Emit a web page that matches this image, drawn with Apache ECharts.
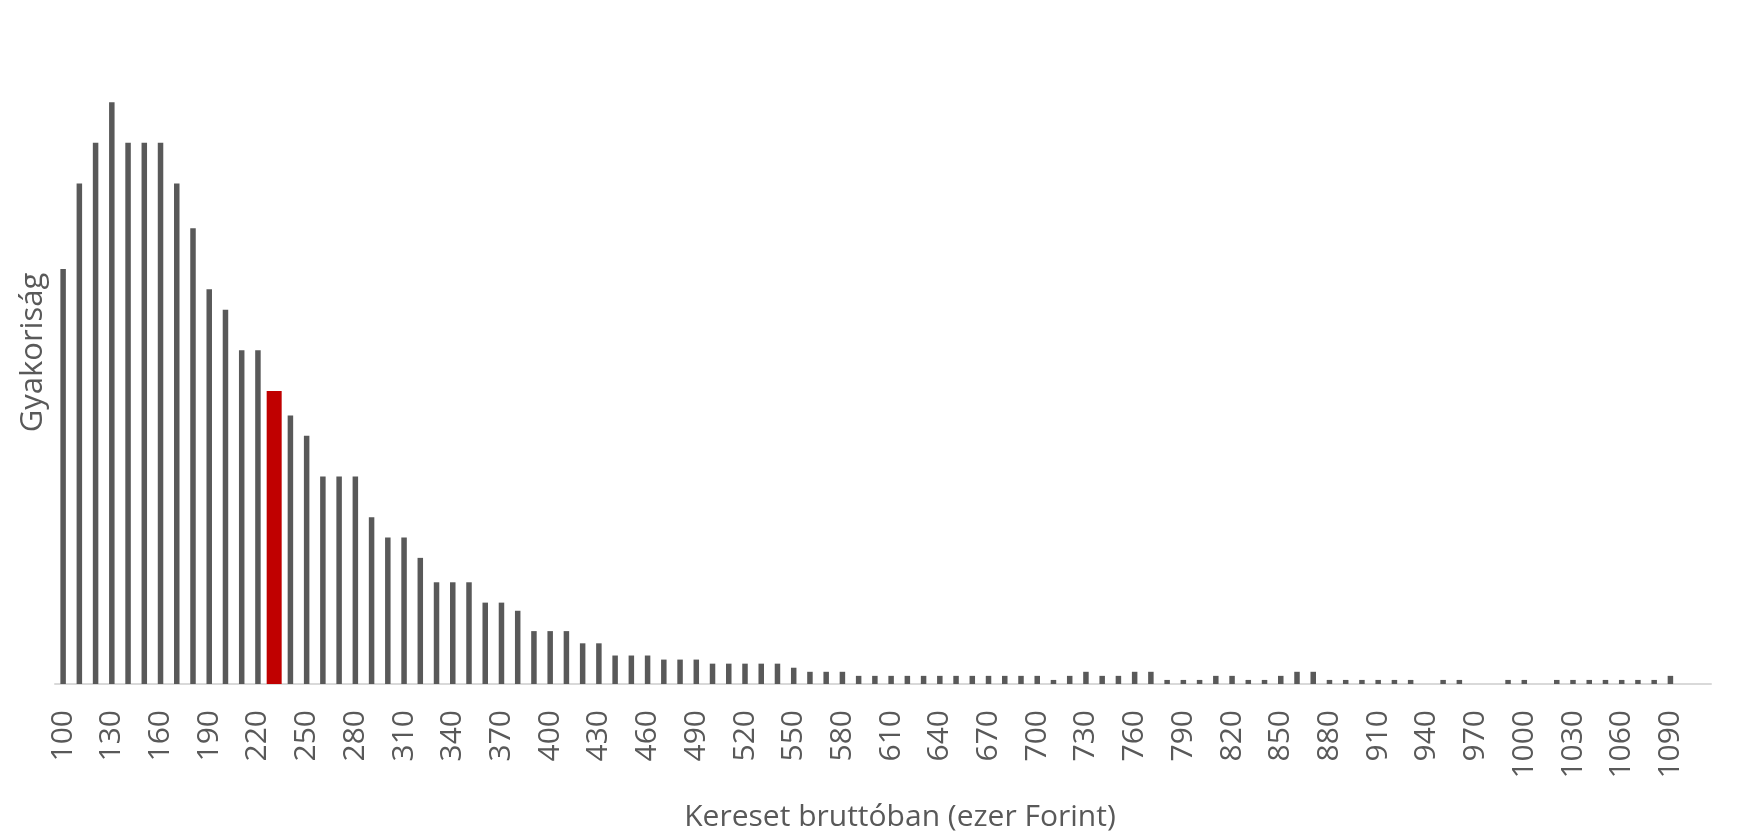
<!DOCTYPE html>
<html>
<head>
<meta charset="utf-8">
<script src="https://cdn.jsdelivr.net/npm/echarts@6/dist/echarts.min.js"></script>
<style>
	html, body { margin: 0; padding: 0; background: #fff; }
	#chart { width: 1742px; height: 837px; }
</style>
</head>
<body>
<div id="chart"></div>
<script>
// kereset kategóriák (ezer Ft), 100..1110
var categories = [];
for(var c = 100; c <= 1110; c += 10)
	categories.push(String(c));

// gyakoriság, a kategóriák sorrendjében
var counts = [
	102, 123, 133, 143, 133, 133, 133, 123, 112, 97,
	92, 82, 82, 72, 66, 61, 51, 51, 51, 41,
	36, 36, 31, 25, 25, 25, 20, 20, 18, 13,
	13, 13, 10, 10, 7, 7, 7, 6, 6, 6,
	5, 5, 5, 5, 5, 4, 3, 3, 3, 2,
	2, 2, 2, 2, 2, 2, 2, 2, 2, 2,
	2, 1, 2, 3, 2, 2, 3, 3, 1, 1,
	1, 2, 2, 1, 1, 2, 3, 3, 1, 1,
	1, 1, 1, 1, 0, 1, 1, 0, 0, 1,
	1, 0, 1, 1, 1, 1, 1, 1, 1, 2,
	0, 0
];

// kiemelt kategória (piros oszlop)
var highlight = '230';

var greyData = [];
var redData = [];
for(var i = 0; i < categories.length; i++){
	
	if(categories[i] == highlight){
		greyData.push('-');
		redData.push(counts[i]);
	}else{
		greyData.push(counts[i] == 0 ? '-' : counts[i]);
		redData.push('-');
	}
}

var textColor = '#595959';
var fontName = '"Open Sans", sans-serif';

var chart = echarts.init(document.getElementById('chart'));
var option = {
	animation: false,
	grid: {
		left: 55,
		right: 31,
		top: 33,
		bottom: 152
	},
	xAxis: [{
		type: 'category',
		data: categories,
		axisTick: { show: false },
		axisLine: { lineStyle: { color: '#d9d9d9', width: 2 } },
		axisLabel: {
			interval: 2,
			rotate: 90,
			margin: 26,
			color: textColor,
			fontSize: 30,
			fontFamily: fontName
		},
		name: 'Kereset bruttóban (ezer Forint)',
		nameLocation: 'middle',
		nameGap: 118,
		nameTextStyle: {
			color: textColor,
			fontSize: 30,
			fontFamily: fontName,
			padding: [0, 0, 0, 34]
		}
	}, {
		type: 'category',
		data: categories,
		show: false
	}],
	yAxis: {
		type: 'value',
		min: 0,
		max: 160,
		axisLine: { show: false },
		axisTick: { show: false },
		axisLabel: { show: false },
		splitLine: { show: false },
		name: 'Gyakoriság',
		nameLocation: 'middle',
		nameGap: 6,
		nameTextStyle: {
			color: textColor,
			fontSize: 31,
			fontFamily: fontName,
			padding: [0, 0, 0, 12]
		}
	},
	series: [{
		type: 'bar',
		data: greyData,
		barWidth: 5.5,
		itemStyle: { color: '#595959' }
	}, {
		type: 'bar',
		xAxisIndex: 1,
		data: redData,
		barWidth: 15,
		itemStyle: { color: '#c00000' }
	}]
};
chart.setOption(option);
</script>
</body>
</html>
